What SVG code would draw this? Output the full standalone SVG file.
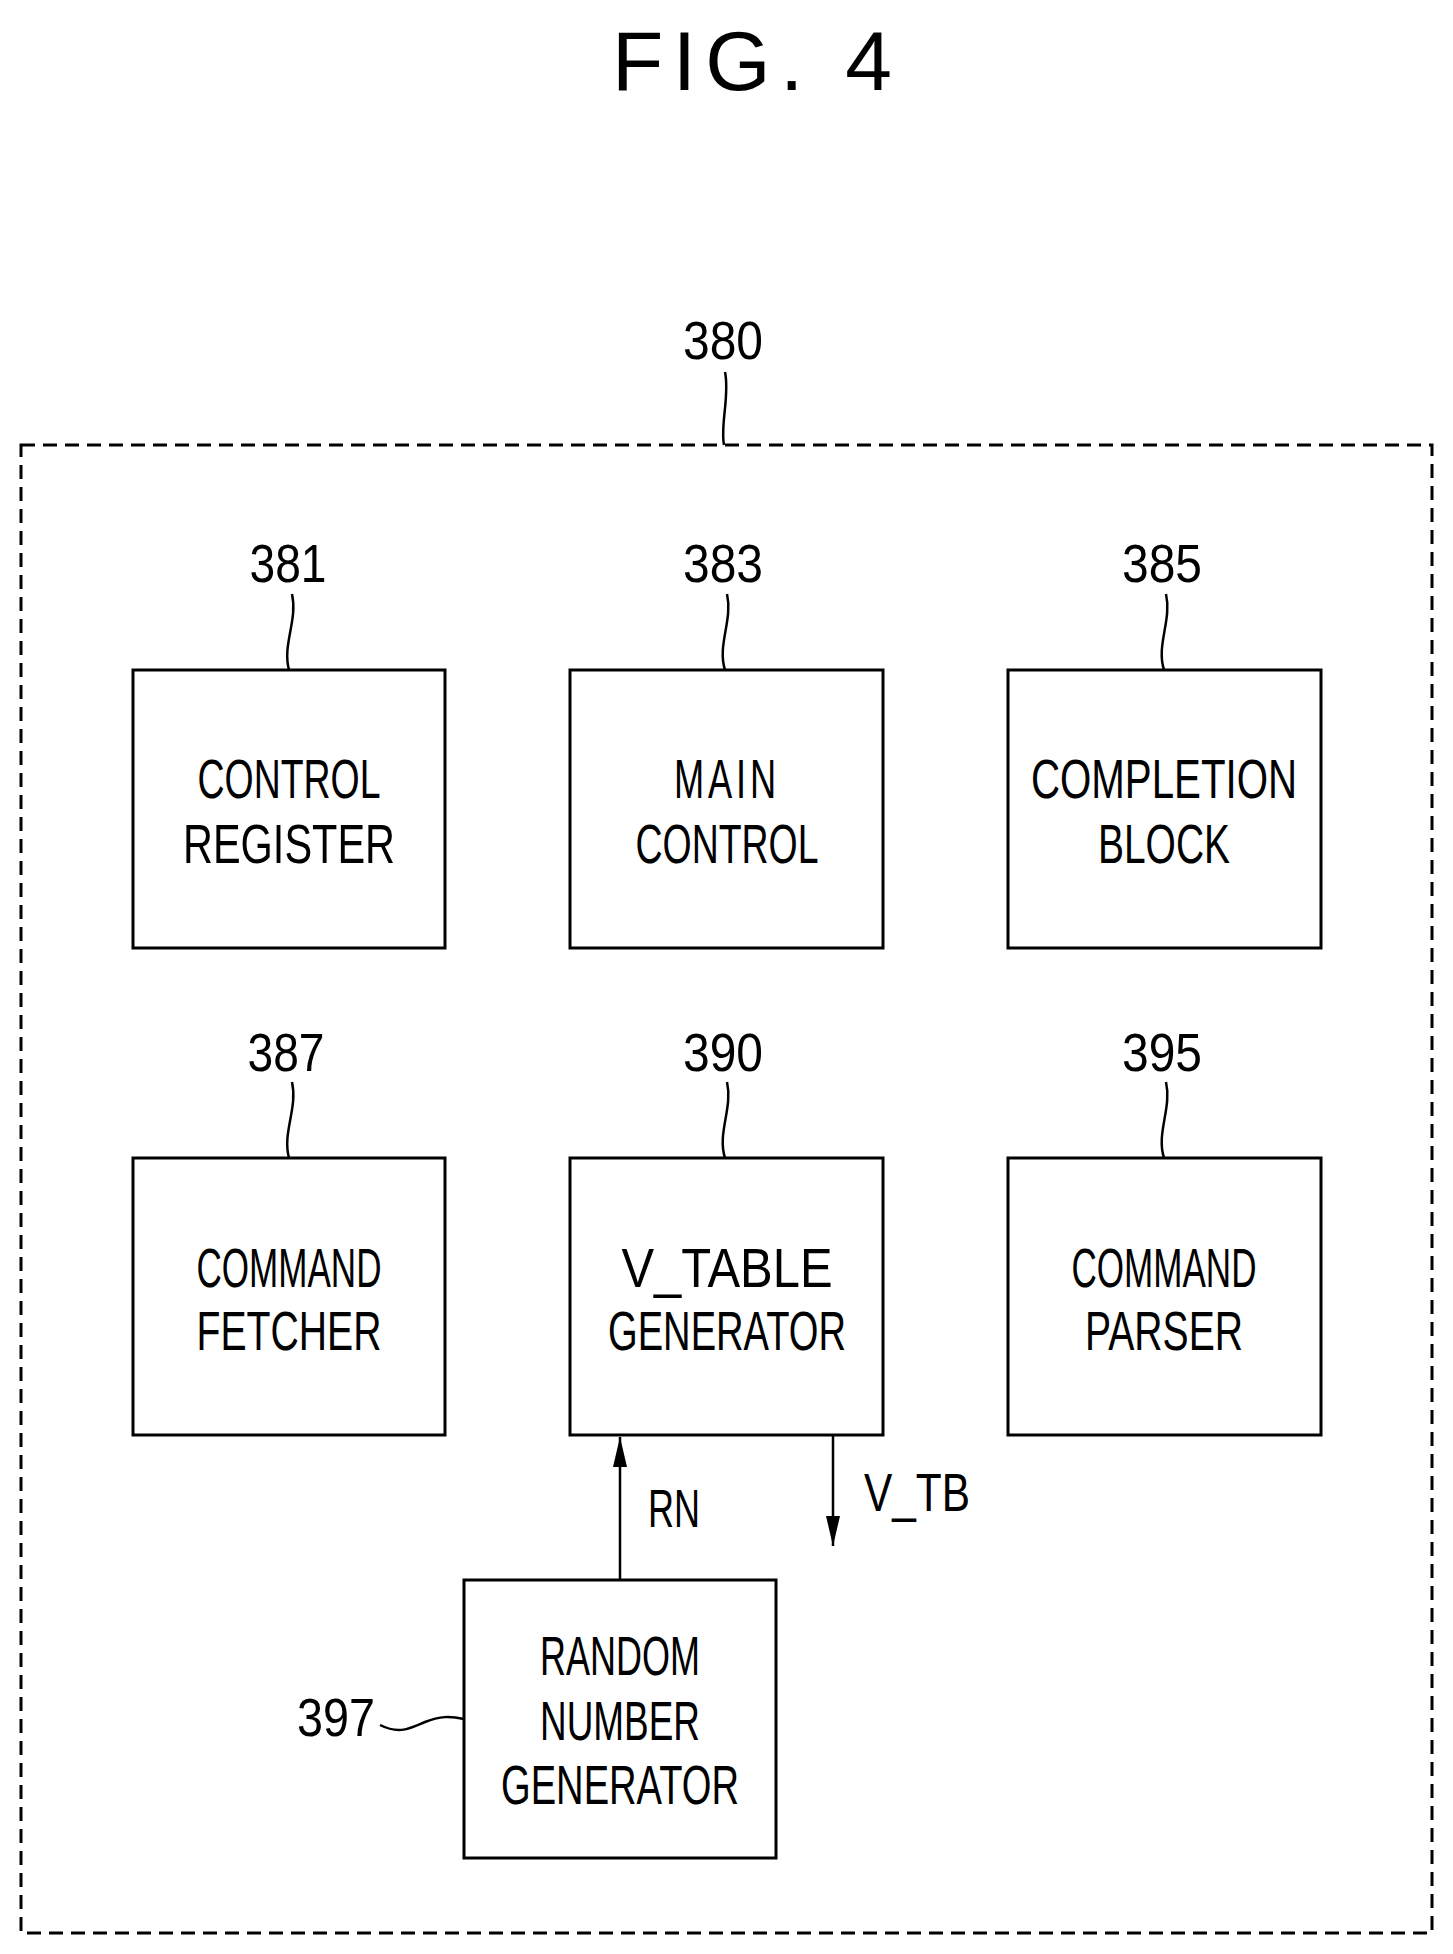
<svg xmlns="http://www.w3.org/2000/svg" width="1453" height="1954" viewBox="0 0 1453 1954">
<style>
.b{fill:none;stroke:#000;stroke-width:3}
.l{fill:none;stroke:#000;stroke-width:2.5}
text{font-family:"Liberation Sans",Arial,sans-serif;fill:#000;text-anchor:middle}
.t{font-size:56px}
.n{font-size:54px}
</style>
<defs>
<marker id="ah" viewBox="0 0 30 16" refX="30" refY="8" markerWidth="30" markerHeight="16" markerUnits="userSpaceOnUse" orient="auto"><path d="M0,1 L30,8 L0,15 Z" fill="#000"/></marker>
</defs>
<rect width="1453" height="1954" fill="#fff"/>
<text x="752" y="90" font-size="84" textLength="280" lengthAdjust="spacing">FIG. 4</text>
<g id="n380">
<rect x="21" y="445" width="1411" height="1488" class="b" stroke-dasharray="14,8"/>
<text class="n" x="723" y="359" textLength="80" lengthAdjust="spacingAndGlyphs">380</text>
<path class="l" d="M725 372 C730 395,720 425,724 445"/>
</g>
<g id="n381">
<rect x="133" y="670" width="312" height="278" class="b"/>
<text class="n" x="288" y="582" textLength="77" lengthAdjust="spacingAndGlyphs">381</text>
<path class="l" d="M292 594 C298 620,282 645,289 670"/>
<text class="t" x="289" y="798" textLength="183" lengthAdjust="spacingAndGlyphs">CONTROL</text>
<text class="t" x="289" y="863" textLength="212" lengthAdjust="spacingAndGlyphs">REGISTER</text>
</g>
<g id="n383">
<rect x="570" y="670" width="313" height="278" class="b"/>
<text class="n" x="723" y="582" textLength="80" lengthAdjust="spacingAndGlyphs">383</text>
<path class="l" d="M727 594 C733 620,717 645,725 670"/>
<text class="t" x="727" y="798" textLength="106" lengthAdjust="spacingAndGlyphs" letter-spacing="6">MAIN</text>
<text class="t" x="727" y="863" textLength="183" lengthAdjust="spacingAndGlyphs">CONTROL</text>
</g>
<g id="n385">
<rect x="1008" y="670" width="313" height="278" class="b"/>
<text class="n" x="1162" y="582" textLength="80" lengthAdjust="spacingAndGlyphs">385</text>
<path class="l" d="M1166 594 C1172 620,1156 645,1164 670"/>
<text class="t" x="1164" y="798" textLength="266" lengthAdjust="spacingAndGlyphs">COMPLETION</text>
<text class="t" x="1164" y="863" textLength="132" lengthAdjust="spacingAndGlyphs">BLOCK</text>
</g>
<g id="n387">
<rect x="133" y="1158" width="312" height="277" class="b"/>
<text class="n" x="286" y="1071" textLength="77" lengthAdjust="spacingAndGlyphs">387</text>
<path class="l" d="M292 1082 C298 1108,282 1133,289 1158"/>
<text class="t" x="289" y="1287" textLength="185" lengthAdjust="spacingAndGlyphs">COMMAND</text>
<text class="t" x="289" y="1350" textLength="185" lengthAdjust="spacingAndGlyphs">FETCHER</text>
</g>
<g id="n390">
<rect x="570" y="1158" width="313" height="277" class="b"/>
<text class="n" x="723" y="1071" textLength="80" lengthAdjust="spacingAndGlyphs">390</text>
<path class="l" d="M727 1082 C733 1108,717 1133,725 1158"/>
<text class="t" x="727" y="1287" textLength="211" lengthAdjust="spacingAndGlyphs">V_TABLE</text>
<text class="t" x="727" y="1350" textLength="238" lengthAdjust="spacingAndGlyphs">GENERATOR</text>
</g>
<g id="n395">
<rect x="1008" y="1158" width="313" height="277" class="b"/>
<text class="n" x="1162" y="1071" textLength="80" lengthAdjust="spacingAndGlyphs">395</text>
<path class="l" d="M1166 1082 C1172 1108,1156 1133,1164 1158"/>
<text class="t" x="1164" y="1287" textLength="185" lengthAdjust="spacingAndGlyphs">COMMAND</text>
<text class="t" x="1164" y="1350" textLength="158" lengthAdjust="spacingAndGlyphs">PARSER</text>
</g>
<g id="n397">
<rect x="464" y="1580" width="312" height="278" class="b"/>
<text class="n" x="336" y="1736" textLength="78" lengthAdjust="spacingAndGlyphs">397</text>
<path class="l" d="M380 1725 C400 1735,410 1728,425 1722 S450 1716,464 1719"/>
<text class="t" x="620" y="1675" textLength="160" lengthAdjust="spacingAndGlyphs">RANDOM</text>
<text class="t" x="620" y="1740" textLength="160" lengthAdjust="spacingAndGlyphs">NUMBER</text>
<text class="t" x="620" y="1804" textLength="238" lengthAdjust="spacingAndGlyphs">GENERATOR</text>
</g>
<g id="connectors">
<line x1="620" y1="1580" x2="620" y2="1437" class="l" marker-end="url(#ah)"/>
<text class="n" x="674" y="1527" textLength="52" lengthAdjust="spacingAndGlyphs">RN</text>
<line x1="833" y1="1435" x2="833" y2="1546" class="l" marker-end="url(#ah)"/>
<text class="n" x="917" y="1511" textLength="106" lengthAdjust="spacingAndGlyphs">V_TB</text>
</g>
</svg>
